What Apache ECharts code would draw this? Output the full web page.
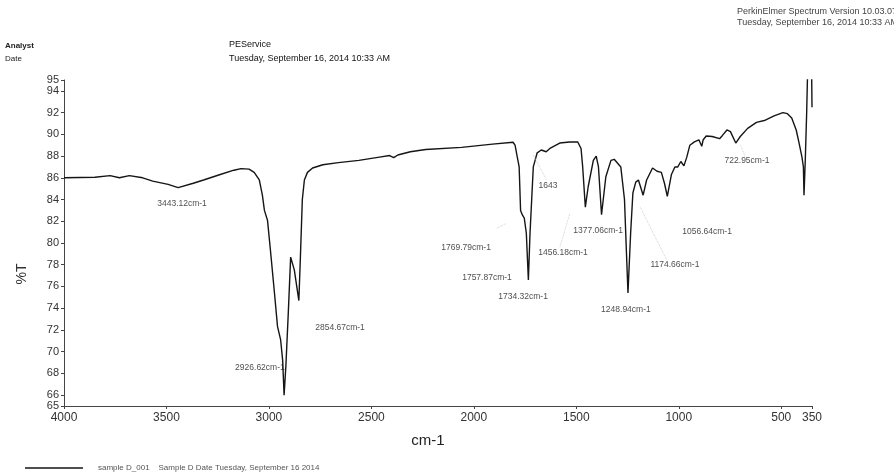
<!DOCTYPE html>
<html><head><meta charset="utf-8">
<script src="https://cdn.jsdelivr.net/npm/echarts@6/dist/echarts.min.js"></script>
<style>html,body{margin:0;padding:0;background:#fff}#c{width:894px;height:476px}</style>
</head><body><div id="c"></div>
<script>
// Wavenumber (cm-1) and transmittance (%T)
const wavenumbers = [4000,3849,3775,3730,3681,3616,3567,3492,3443,3369,3319,3245,3171,3136,3097,3072,3047,3032,3022,3007,2993,2973,2958,2943,2933,2926,2917,2905,2894,2876,2854,2847,2837,2827,2812,2787,2737,2661,2561,2461,2411,2391,2371,2310,2235,2060,1909,1809,1799,1789,1779,1772,1764,1754,1744,1734,1726,1710,1691,1671,1647,1629,1581,1533,1493,1477,1469,1456,1442,1417,1403,1392,1377,1356,1331,1315,1283,1265,1256,1248,1235,1224,1210,1197,1174,1157,1128,1106,1085,1070,1056,1036,1019,1005,990,975,961,946,924,902,888,881,866,837,801,787,765,748,722,700,664,621,578,535,492,470,449,427,413,399,392,389,383,376,370,360,352,350];
const transmittance = [86.0,86.05,86.2,86.0,86.2,86.0,85.7,85.4,85.1,85.5,85.8,86.26,86.7,86.84,86.8,86.5,85.8,84.4,83.0,82.1,79.4,75.4,72.3,71.1,69.2,66.0,68.8,73.8,78.7,77.5,74.7,78.4,84.0,85.8,86.5,86.9,87.2,87.4,87.6,87.9,88.05,87.85,88.1,88.4,88.6,88.8,89.1,89.27,89.0,88.0,87.0,83.0,82.6,82.3,80.9,76.6,80.9,87.0,88.3,88.56,88.4,88.7,89.2,89.3,89.3,88.7,87.0,83.3,85.2,87.6,88.0,87.0,82.6,86.1,87.6,87.7,87.0,84.0,79.4,75.4,80.9,84.6,85.6,85.8,84.4,85.8,86.9,86.6,86.5,85.5,84.3,86.3,87.0,87.0,87.5,87.1,87.9,89.0,89.3,89.5,88.9,89.5,89.85,89.8,89.6,89.9,90.4,90.25,89.2,89.8,90.55,91.1,91.3,91.7,92.0,91.9,91.5,90.4,89.2,87.9,87.0,84.4,87.5,92.0,97.0,97.5,96.0,92.5];

const xTicks = [4000,3500,3000,2500,2000,1500,1000,500,350];
const yTicks = [65,66,68,70,72,74,76,78,80,82,84,86,88,90,92,94,95];

// Peak annotations: text and the (wavenumber, %T) where the text sits
const peakText = ['3443.12cm-1','2926.62cm-1','2854.67cm-1','1769.79cm-1','1757.87cm-1','1734.32cm-1','1643','1456.18cm-1','1377.06cm-1','1248.94cm-1','1174.66cm-1','1056.64cm-1','722.95cm-1'];
const peakTextW = [3424,3044,2653,2038,1936,1760,1638,1565,1394,1258,1019,862,667];
const peakTextT = [83.6,68.5,72.2,79.6,76.8,75.1,85.25,79.1,81.1,73.9,78.0,81.0,87.55];

// Faint leader lines from some labels toward their bands: [w1, t1, w2, t2]
const leaderW1 = [1889,1580,1710,1189,698];
const leaderT1 = [81.35,79.66,88.1,83.34,89.0];
const leaderW2 = [1840,1531,1645,1059,677];
const leaderT2 = [81.81,82.73,85.8,78.44,87.94];

const seriesName = 'sample D_001    Sample D Date Tuesday, September 16 2014';
const FONT = '"Liberation Sans", Arial, sans-serif';

const chart = echarts.init(document.getElementById('c'), null, {renderer: 'canvas'});
const lineData = wavenumbers.map((w, i) => [w, transmittance[i]]);
const labelData = peakText.map((t, i) => ({name: t, value: [peakTextW[i], peakTextT[i]]}));
const leaderData = [];
leaderW1.forEach((w, i) => {
  leaderData.push([w, leaderT1[i]], [leaderW2[i], leaderT2[i]], [null, null]);
});

chart.setOption({
  animation: false,
  backgroundColor: '#fff',
  textStyle: {fontFamily: FONT},
  grid: {left: 64, right: 82, top: 80, bottom: 70, containLabel: false},
  legend: {
    show: true, left: 20, top: 459, icon: 'rect', itemWidth: 58, itemHeight: 1.5,
    textStyle: {fontSize: 8, color: '#555', fontFamily: FONT, padding: [0, 0, 0, 10]},
    data: [seriesName]
  },
  xAxis: {
    type: 'value', inverse: true, min: 350, max: 4000,
    splitLine: {show: false},
    axisLine: {show: true, onZero: false, lineStyle: {color: '#444', width: 1}},
    axisTick: {show: true, length: 3, customValues: xTicks, lineStyle: {color: '#444'}},
    axisLabel: {customValues: xTicks, formatter: v => String(v), fontSize: 12, color: '#333', margin: 6, fontFamily: FONT},
    name: 'cm-1', nameLocation: 'middle', nameGap: 27,
    nameTextStyle: {fontSize: 15, color: '#222', fontFamily: FONT, padding: [0, 20, 0, 0]}
  },
  yAxis: {
    type: 'value', min: 65, max: 95,
    splitLine: {show: false},
    axisLine: {show: true, lineStyle: {color: '#444', width: 1}},
    axisTick: {show: true, length: 3, customValues: yTicks, lineStyle: {color: '#444'}},
    axisLabel: {customValues: yTicks, formatter: v => String(v), fontSize: 11, color: '#333', margin: 5, fontFamily: FONT}
  },
  graphic: [
    {type: 'text', left: 737, top: 7, style: {text: 'PerkinElmer Spectrum Version 10.03.07', fontSize: 9, fill: '#444', fontFamily: FONT}},
    {type: 'text', left: 737, top: 18, style: {text: 'Tuesday, September 16, 2014 10:33 AM', fontSize: 9, fill: '#444', fontFamily: FONT}},
    {type: 'text', left: 5, top: 42, style: {text: 'Analyst', fontSize: 8, fontWeight: 'bold', fill: '#222', fontFamily: FONT}},
    {type: 'text', left: 5, top: 55, style: {text: 'Date', fontSize: 8, fill: '#222', fontFamily: FONT}},
    {type: 'text', left: 229, top: 40, style: {text: 'PEService', fontSize: 9, fill: '#111', fontFamily: FONT}},
    {type: 'text', left: 229, top: 54, style: {text: 'Tuesday, September 16, 2014 10:33 AM', fontSize: 9, fill: '#111', fontFamily: FONT}},
    {type: 'text', x: 22, y: 274, rotation: Math.PI / 2, style: {text: '%T', fontSize: 14, fill: '#333', fontFamily: FONT, align: 'center', verticalAlign: 'middle'}}
  ],
  series: [
    {
      name: seriesName, type: 'line', data: lineData, showSymbol: false, clip: true,
      lineStyle: {color: '#151515', width: 1.4}, itemStyle: {color: '#151515'}
    },
    {
      name: 'leaders', type: 'line', data: leaderData, showSymbol: false, connectNulls: false, silent: true,
      lineStyle: {color: '#c4c4c4', width: 0.8, type: 'dotted'}
    },
    {
      name: 'peaks', type: 'scatter', data: labelData, symbolSize: 0, silent: true,
      label: {show: true, position: 'inside', formatter: p => p.name, fontSize: 8.5, color: '#222', fontFamily: FONT}
    }
  ]
});
</script>
</body></html>
